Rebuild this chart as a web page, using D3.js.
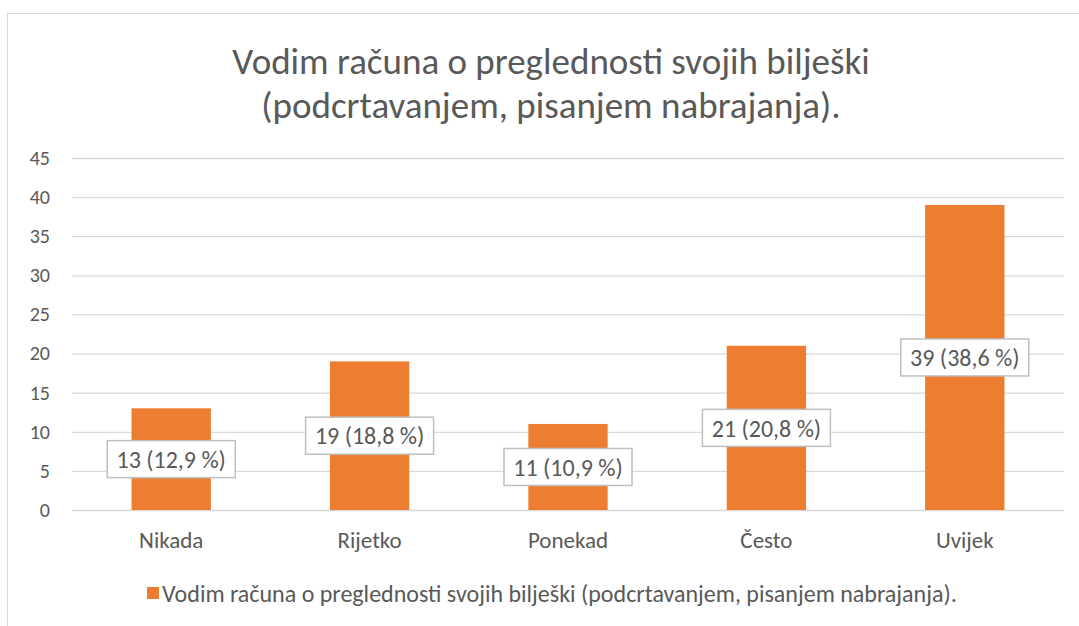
<!DOCTYPE html>
<html>
<head>
<meta charset="utf-8">
<script src="https://cdn.jsdelivr.net/npm/d3@7"></script>
<style>
  html, body { margin: 0; padding: 0; background: #fff; }
  svg { display: block; font-family: Carlito, Calibri, Lato, sans-serif; }
</style>
</head>
<body>
<svg id="chart" width="1079" height="626"></svg>
<script>
const categories = ['Nikada', 'Rijetko', 'Ponekad', 'Često', 'Uvijek'];
const counts = [13, 19, 11, 21, 39];
const percents = ['12,9', '18,8', '10,9', '20,8', '38,6'];
const yTicks = [0, 5, 10, 15, 20, 25, 30, 35, 40, 45];
const titleLines = ['Vodim računa o preglednosti svojih bilješki', '(podcrtavanjem, pisanjem nabrajanja).'];
const seriesName = 'Vodim računa o preglednosti svojih bilješki (podcrtavanjem, pisanjem nabrajanja).';

const W = 1079, H = 626;
const margin = { top: 158, right: 15, bottom: 116, left: 72 };
const innerW = W - margin.left - margin.right;
const innerH = H - margin.top - margin.bottom;
const orange = '#ED7D31';
const textCol = '#595959';
const font = 'Carlito, Calibri, Lato, sans-serif';

const svg = d3.select('#chart');

// outer chart frame (only left + top visible)
svg.append('rect')
  .attr('x', 7.5).attr('y', 13.5)
  .attr('width', W + 10).attr('height', H + 10)
  .attr('fill', 'none').attr('stroke', '#d9d9d9');

// title
svg.append('g').selectAll('text').data(titleLines).join('text')
  .attr('x', 551).attr('y', (d, i) => 74 + i * 44)
  .attr('text-anchor', 'middle')
  .attr('font-size', 37)
  .attr('fill', textCol)
  .text(d => d);

const g = svg.append('g').attr('transform', `translate(${margin.left},${margin.top})`);

const x = d3.scaleBand().domain(categories).range([0, innerW]).paddingInner(0.6).paddingOuter(0.3);
const y = d3.scaleLinear().domain([0, 45]).range([innerH, 0]);

// gridlines
g.append('g')
  .call(d3.axisLeft(y).tickValues(yTicks).tickSize(-innerW).tickFormat(''))
  .call(a => a.select('.domain').remove())
  .selectAll('line').attr('stroke', '#d9d9d9').attr('stroke-width', 1.3);

// y axis labels
g.append('g')
  .call(d3.axisLeft(y).tickValues(yTicks).tickSize(0).tickPadding(22))
  .call(a => a.select('.domain').remove())
  .selectAll('text')
    .attr('font-family', font)
    .attr('font-size', 20).attr('fill', textCol);

// x axis labels
g.append('g')
  .attr('transform', `translate(0,${innerH})`)
  .call(d3.axisBottom(x).tickSize(0).tickPadding(22))
  .call(a => a.select('.domain').remove())
  .selectAll('text')
    .attr('font-family', font)
    .attr('font-size', 23).attr('fill', textCol);

const data = categories.map((c, i) => ({ cat: c, v: counts[i], p: percents[i] }));

// bars
g.selectAll('rect.bar').data(data).join('rect')
  .attr('class', 'bar')
  .attr('x', d => x(d.cat))
  .attr('y', d => y(d.v))
  .attr('width', x.bandwidth())
  .attr('height', d => innerH - y(d.v))
  .attr('fill', orange);

// data labels in boxes, centered on bar
const labels = g.selectAll('g.lbl').data(data).join('g')
  .attr('class', 'lbl')
  .attr('transform', d => `translate(${x(d.cat) + x.bandwidth() / 2},${y(d.v / 2)})`);

labels.append('rect')
  .attr('x', -64).attr('y', -18.5)
  .attr('width', 128).attr('height', 37)
  .attr('fill', '#fff').attr('stroke', '#bfbfbf').attr('stroke-width', 1.5);

labels.append('text')
  .attr('text-anchor', 'middle').attr('dy', '0.36em')
  .attr('font-size', 24).attr('fill', textCol)
  .text(d => `${d.v} (${d.p} %)`);

// legend
const legend = svg.append('g').attr('transform', 'translate(147,587)');
legend.append('rect').attr('width', 12).attr('height', 12).attr('fill', orange);
legend.append('text')
  .attr('x', 15).attr('y', 6).attr('dy', '0.36em')
  .attr('font-size', 24).attr('fill', textCol)
  .text(seriesName);
</script>
</body>
</html>
